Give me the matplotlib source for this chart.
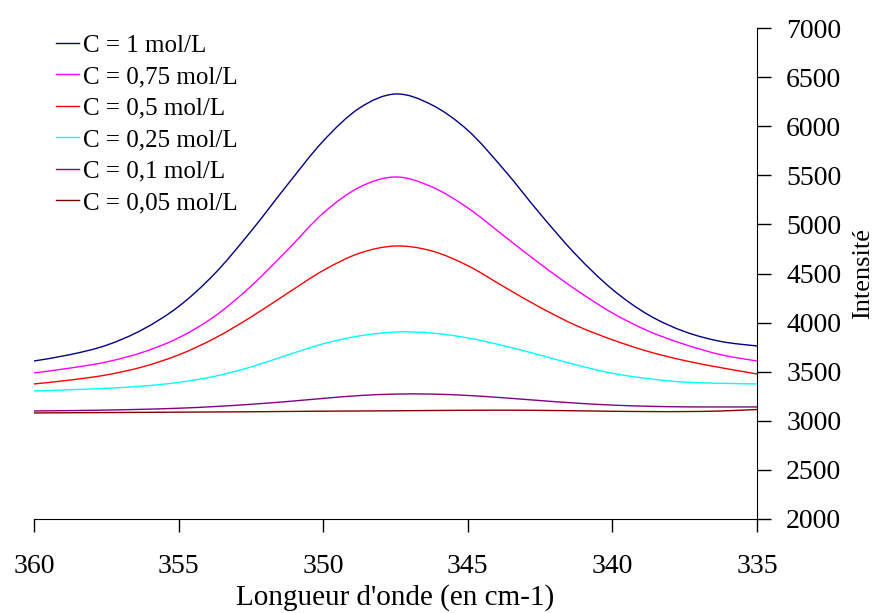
import matplotlib
matplotlib.use('Agg')
import matplotlib.pyplot as plt
from matplotlib.path import Path
from matplotlib.patches import PathPatch
from matplotlib.lines import Line2D

# Longueur d'onde (cm-1)
wavelength = [360, 358.75, 357.5, 356.25, 355, 353.75, 352.5, 351.25, 350, 348.75, 347.5,
              346.25, 345, 343.75, 342.5, 341.25, 340, 338.75, 337.5, 336.25, 335]

c_1 = [3609, 3674, 3769, 3929, 4164, 4499, 4929, 5399, 5849, 6184, 6328,
       6218, 5958, 5558, 5108, 4688, 4338, 4078, 3908, 3808, 3762]
c_075 = [3487, 3537, 3599, 3697, 3845, 4065, 4370, 4735, 5115, 5378, 5483,
         5383, 5168, 4883, 4598, 4333, 4098, 3913, 3778, 3673, 3609]
c_05 = [3375, 3415, 3467, 3549, 3671, 3841, 4056, 4296, 4531, 4706, 4780,
        4730, 4580, 4365, 4155, 3970, 3825, 3705, 3613, 3541, 3477]
c_025 = [3304, 3316, 3331, 3353, 3391, 3453, 3548, 3668, 3784, 3864, 3904,
         3894, 3844, 3764, 3669, 3569, 3484, 3429, 3394, 3382, 3375]
c_01 = [3100, 3104, 3109, 3117, 3128, 3145, 3168, 3196, 3228, 3257, 3272,
        3272, 3258, 3234, 3206, 3180, 3160, 3148, 3142, 3141, 3141]
c_005 = [3080, 3082, 3084, 3086, 3088, 3090, 3092, 3095, 3098, 3100, 3102,
         3105, 3107, 3108, 3106, 3102, 3097, 3094, 3094, 3100, 3115]

labels = ['C = 1 mol/L', 'C = 0,75 mol/L', 'C = 0,5 mol/L',
          'C = 0,25 mol/L', 'C = 0,1 mol/L', 'C = 0,05 mol/L']
colors = ['#000080', '#FF00FF', '#FF0000', '#00FFFF', '#800080', '#800000']
series = [c_1, c_075, c_05, c_025, c_01, c_005]

x_ticks = [360, 355, 350, 345, 340, 335]
y_ticks = [2000, 2500, 3000, 3500, 4000, 4500, 5000, 5500, 6000, 6500, 7000]


def smooth_path(xs, ys):
    """Courbe lissee (style Excel) : segments de Bezier passant par les points"""
    verts = [(xs[0], ys[0])]
    codes = [Path.MOVETO]
    n = len(xs)
    for i in range(n - 1):
        x0, y0 = (xs[i - 1], ys[i - 1]) if i > 0 else (xs[i], ys[i])
        x1, y1 = xs[i], ys[i]
        x2, y2 = xs[i + 1], ys[i + 1]
        x3, y3 = (xs[i + 2], ys[i + 2]) if i + 2 < n else (x2, y2)
        verts += [(x1 + (x2 - x0) / 6, y1 + (y2 - y0) / 6),
                  (x2 - (x3 - x1) / 6, y2 - (y3 - y1) / 6),
                  (x2, y2)]
        codes += [Path.CURVE4] * 3
    return Path(verts, codes)


plt.rcParams['font.family'] = ['Liberation Serif', 'DejaVu Serif']

fig = plt.figure(figsize=(8.78, 6.13), dpi=100)
ax = fig.add_axes([34 / 878, 1 - 519 / 613, (757 - 34) / 878, (519 - 28) / 613])

# Tracer les courbes
handles = []
for values, color, label in zip(series, colors, labels):
    ax.add_patch(PathPatch(smooth_path(wavelength, values), fill=False,
                           edgecolor=color, linewidth=1.0))
    handles.append(Line2D([], [], color=color, linewidth=1.0, label=label))

ax.set_xlim(360, 335)
ax.set_ylim(2000, 7000)
ax.set_xticks(x_ticks)
ax.set_yticks(y_ticks)

# Axes: bas et droite seulement
ax.spines['top'].set_visible(False)
ax.spines['left'].set_visible(False)
ax.yaxis.tick_right()
ax.yaxis.set_label_position('right')
ax.tick_params(axis='x', direction='out', length=9, width=1, labelsize=20, pad=16)
ax.tick_params(axis='y', direction='out', length=10, width=1, labelsize=20, pad=11)

ax.set_xlabel("Longueur d'onde (en cm-1)", fontsize=21, labelpad=4)
ax.set_ylabel('Intensité', fontsize=19, labelpad=8)

ax.legend(handles=handles, loc='upper left', frameon=False, fontsize=18, handlelength=0.92,
          handletextpad=0.16, labelspacing=0.36, borderaxespad=0.0,
          bbox_to_anchor=(0.0166, 1.008))

fig.savefig('out.png', dpi=100)
